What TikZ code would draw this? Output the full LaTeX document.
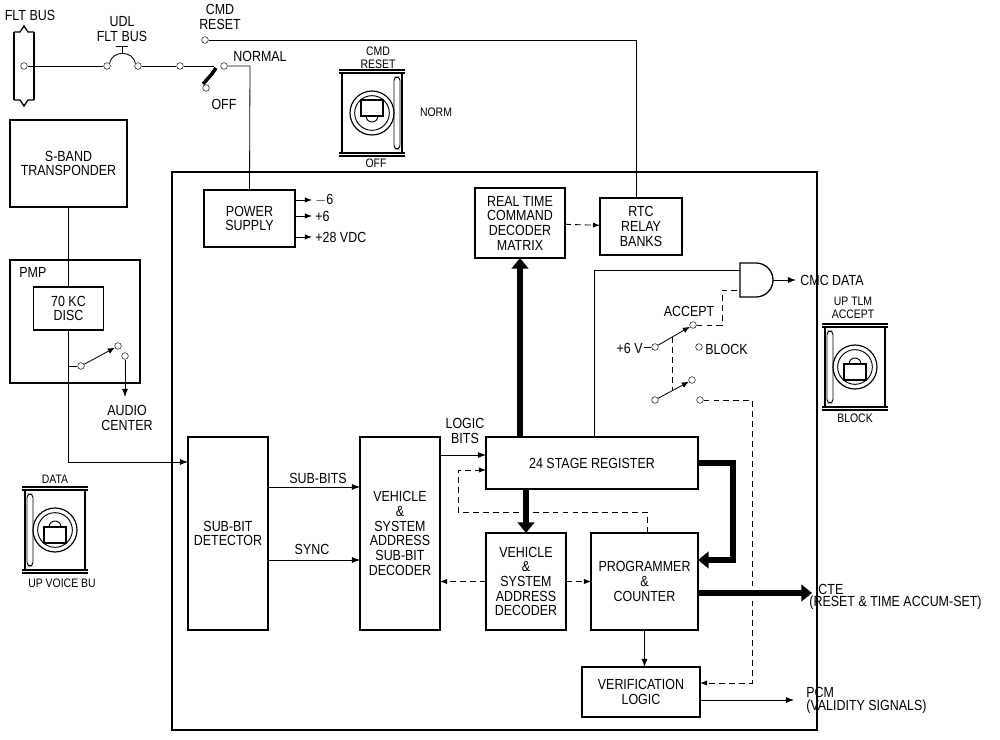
\documentclass[tikz,border=0pt]{standalone}
\usepackage{fontspec}
\setmainfont{Liberation Sans}[FakeStretch=0.85]
\usetikzlibrary{arrows.meta}

\tikzset{
  blk/.style={draw, line width=1.1pt, inner sep=0pt, outer sep=0pt, align=center},
  term/.style={circle, draw, fill=white, inner sep=0pt, minimum size=0.2cm},
  lbl/.style={align=center, inner sep=1pt},
  small/.style={font=\fontsize{10.5}{11}\selectfont},
  wire/.style={line width=0.7pt},
  dwire/.style={line width=0.7pt, dash pattern=on 5pt off 3.5pt},
  bus/.style={line width=4.5pt, -{Triangle[length=9pt,width=14pt]}},
  lever/.style={line width=0.7pt, -{Latex[length=6pt,width=5pt]}},
  tglpanel/.pic={
    \draw[line width=1.2pt] (-33,-40) -- (33,-40) (-33,-43) -- (33,-43)
      (-33,40) -- (33,40) (-33,43) -- (33,43);
    \draw[line width=1pt] (-30,-40) -- (-30,40) (30,-40) -- (30,40);
    \draw[line width=0.8pt, rounded corners=3pt] (-28,-36) rectangle (-22,36);
    \draw[line width=1pt] (0,0) circle[radius=0.66cm];
    \draw[line width=0.8pt] (0,0) circle[radius=0.52cm];
    \draw[line width=0.9pt, fill=white] (-11,-3) rectangle (11,13);
    \draw[line width=0.8pt] (-6,-3) arc[start angle=180, end angle=0, radius=0.18cm];
  }
}

\begin{document}
\begin{tikzpicture}[x=0.03cm, y=-0.03cm, font=\fontsize{12.5}{12.5}\selectfont]
  \useasboundingbox (0,0) rectangle (1000,740);

  % flight bus side
  \draw[line width=1.1pt] (14,32) -- (14,100) (34,32) -- (34,100);
  \draw[line width=1.1pt] (14,32) -- (20,32) -- (24,26) -- (28,32) -- (34,32);
  \draw[line width=1.1pt] (14,100) -- (20,100) -- (24,106) -- (28,100) -- (34,100);
  \node[lbl] at (30,15) {FLT BUS};
  \node[term] (fb) at (24,66) {};
  \node[term] (cb1) at (107,66) {};
  \node[term] (cb2) at (138,66) {};
  \node[lbl] at (122,29) {UDL\\FLT BUS};
  \node[term] (sw1) at (180,66) {};
  \node[term] (swn) at (224,66) {};
  \node[term] (swo) at (206,88) {};
  \node[lbl, anchor=west] at (232,56) {NORMAL};
  \node[lbl] at (224,104) {OFF};
  \node[term] (cmdr) at (205,40) {};
  \node[lbl] at (220,17) {CMD\\RESET};

  \draw[wire] (fb) -- (cb1);
  \draw[wire] (cb1.north east) .. controls (112,50) and (133,50) .. (cb2.north west);
  \draw[wire] (122,53) -- (122,46) (116,46) -- (128,46);
  \draw[wire] (cb2) -- (sw1);
  \draw[wire] (sw1) -- (214,66);
  \draw[line width=3pt] (216,68) .. controls (212,74) .. (203,84);

  % CMD RESET panel
  \pic[rotate=180] at (372,113) {tglpanel};
  \node[lbl, small] at (378,58) {CMD\\RESET};
  \node[lbl, small] at (436,112) {NORM};
  \node[lbl, small] at (376,163) {OFF};

  % transponder and PMP
  \node[blk, minimum width=3.51cm, minimum height=2.61cm] (trans) at (68.5,163.5) {S-BAND\\TRANSPONDER};
  \node[blk, minimum width=3.9cm, minimum height=3.69cm] (pmp) at (75,321.5) {};
  \node[lbl, anchor=west] at (18,272) {PMP};
  \node[blk, minimum width=2.1cm, minimum height=1.29cm] (disc) at (68.5,308.5) {70 KC\\DISC};
  \node[term] (pp) at (81,366) {};
  \node[term] (pa) at (118,346) {};
  \node[term] (pb) at (125,356) {};
  \coordinate (aud) at (125,397);
  \node[lbl] at (127,418) {AUDIO\\CENTER};
  \coordinate (din) at (188,462);
  \draw[wire] (trans) -- (disc);
  \draw[wire, -{Latex[length=7pt]}] (disc) |- (din);
  \draw[wire] (68.5,366) -- (pp);
  \draw[lever] (pp) -- (pa);
  \draw[wire, -{Latex[length=7pt]}] (pb) -- (aud);

  % DATA panel
  \pic at (55,530) {tglpanel};
  \node[lbl, small] at (55,479) {DATA};
  \node[lbl, small] at (62,583) {UP VOICE BU};

  % main unit
  \node[blk, line width=1.6pt, minimum width=19.35cm, minimum height=16.74cm] (unit) at (494.5,451) {};
  \node[blk, minimum width=2.73cm, minimum height=1.71cm] (power) at (249.5,218.5) {POWER\\SUPPLY};
  \node[blk, minimum width=2.7cm, minimum height=2.1cm] (rtcm) at (520,223) {REAL TIME\\COMMAND\\DECODER\\MATRIX};
  \node[blk, minimum width=2.46cm, minimum height=1.71cm] (rtc) at (641,226.5) {RTC\\RELAY\\BANKS};
  \node[blk, minimum width=2.4cm, minimum height=5.79cm] (detector) at (228,533.5) {SUB-BIT\\DETECTOR};
  \node[blk, minimum width=2.4cm, minimum height=5.79cm] (subdec) at (400,533.5) {VEHICLE\\\&\\SYSTEM\\ADDRESS\\SUB-BIT\\DECODER};
  \node[blk, minimum width=6.36cm, minimum height=1.56cm] (reg) at (592,463) {24 STAGE REGISTER};
  \node[blk, minimum width=2.4cm, minimum height=2.91cm] (adec) at (526,581.5) {VEHICLE\\\&\\SYSTEM\\ADDRESS\\DECODER};
  \node[blk, minimum width=3.21cm, minimum height=2.91cm] (prog) at (644.5,581.5) {PROGRAMMER\\\&\\COUNTER};
  \node[blk, minimum width=3.54cm, minimum height=1.5cm] (verif) at (641,692) {VERIFICATION\\LOGIC};

  % power feeds
  \draw[wire] (swn) -- (250,66) -- (power.north);
  \draw[wire] (cmdr) -- (636,40) -- (rtc.north -| 636,0);
  \foreach \yy/\vv in {200/$-$6, 216/+6, 237/+28 VDC} {
    \draw[wire, -{Latex[length=6pt]}] (power.east |- 0,\yy) -- (312,\yy);
    \node[lbl, anchor=west] at (314,\yy) {\vv};
  }
  \draw[dwire, -{Latex[length=6pt]}] (rtcm) -- (rtc);

  % signal flow
  \draw[wire, -{Latex[length=7pt]}] (detector.east |- 0,487) -- (subdec.west |- 0,487);
  \node[lbl] at (318,478) {SUB-BITS};
  \draw[wire, -{Latex[length=7pt]}] (detector.east |- 0,560) -- (subdec.west |- 0,560);
  \node[lbl] at (312,549) {SYNC};
  \draw[wire, -{Latex[length=7pt]}] (subdec.east |- 0,455) -- (reg.west |- 0,455);
  \node[lbl] at (465,431) {LOGIC\\BITS};
  \draw[bus] (reg.north -| 520,0) -- (rtcm.south -| 520,0);
  \draw[bus] (reg.south -| 526,0) -- (adec.north);
  \draw[bus] (reg.east) -- (733,463) -- (733,560) -- (prog.east |- 0,560);
  \coordinate (cte) at (812,593);
  \draw[bus] (prog.east |- cte) -- (cte);
  \node[lbl, anchor=west] at (817,589) {CTE};
  \node[lbl, anchor=west] at (808,603) {(RESET \& TIME ACCUM-SET)};
  \draw[dwire, -{Latex[length=6pt]}] (prog.north -| 647,0) -- (647,512) -- (458,512) -- (458,470) -- (reg.west |- 0,470);
  \draw[dwire, -{Latex[length=6pt]}] (adec.west) -- (subdec.east |- adec.west);
  \draw[dwire, -{Latex[length=6pt]}] (adec.east) -- (prog.west |- adec.east);
  \draw[wire, -{Latex[length=7pt]}] (prog.south) -- (verif.north -| prog.south);
  \coordinate (pcm) at (794,700);
  \draw[wire, -{Latex[length=7pt]}] (verif.east |- pcm) -- (pcm);
  \node[lbl, anchor=west] at (805,692) {PCM};
  \node[lbl, anchor=west] at (805,707) {(VALIDITY SIGNALS)};

  % accept gate
  \draw[line width=1.1pt] (740,263) -- (756,263) arc[start angle=90, end angle=-90, radius=0.51cm] -- (740,297) -- cycle;
  \coordinate (gout) at (796,280);
  \draw[wire] (reg.north -| 594,0) -- (594,270) -- (740,270);
  \draw[wire, -{Latex[length=7pt]}] (773,280) -- (gout);
  \node[lbl, anchor=west] at (799,280) {CMC DATA};
  \node[term] (sp) at (655,347) {};
  \node[term] (sa) at (693,325) {};
  \node[term] (sb) at (699,347) {};
  \node[lbl, anchor=east] at (644,348) {+6 V};
  \node[lbl] at (689,311) {ACCEPT};
  \node[lbl, anchor=west] at (704,349) {BLOCK};
  \draw[wire] (644,347) -- (sp);
  \draw[lever] (sp) -- (sa);
  \draw[dwire] (sa) -- (722,325) -- (722,290) -- (740,290);
  \node[term] (tp) at (655,400) {};
  \node[term] (ta) at (692,380) {};
  \node[term] (tb) at (700,400) {};
  \draw[lever] (tp) -- (ta);
  \draw[dwire] (672,337) -- (672,390);
  \draw[dwire, -{Latex[length=6pt]}] (tb) -- (752,400) -- (752,683) -- (verif.east |- 0,683);

  % UP TLM panel
  \pic at (855,367) {tglpanel};
  \node[lbl, small] at (853,308) {UP TLM\\ACCEPT};
  \node[lbl, small] at (855,418) {BLOCK};
\end{tikzpicture}
\end{document}
